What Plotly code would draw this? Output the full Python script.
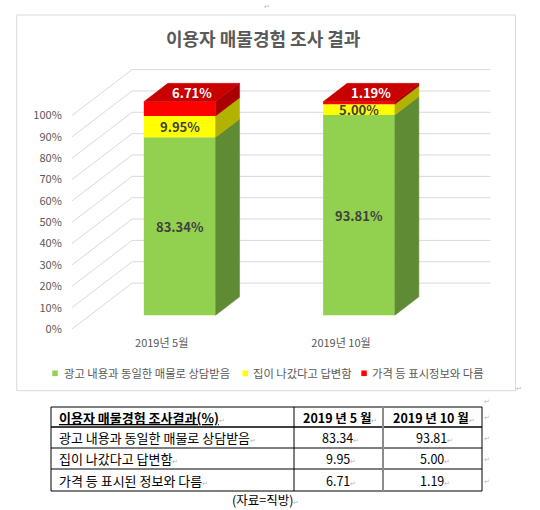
import plotly.graph_objects as go

# ---------------- data ----------------
categories = ["2019년 5월", "2019년 10월"]
series_names = ["광고 내용과 동일한 매물로 상담받음", "집이 나갔다고 답변함", "가격 등 표시정보와 다름"]
same_listing = [83.34, 93.81]
already_gone = [9.95, 5.00]
price_differs = [6.71, 1.19]
y_ticks = [0, 10, 20, 30, 40, 50, 60, 70, 80, 90, 100]
chart_title = "이용자 매물경험 조사 결과"
table_headers = ["이용자 매물경험 조사결과(%)", "2019 년 5 월", "2019 년 10 월"]
table_row_names = ["광고 내용과 동일한 매물로 상담받음", "집이 나갔다고 답변함", "가격 등 표시된 정보와 다름"]
source_note = "(자료=직방)"

# ---------------- styles / geometry ----------------
W, H = 540, 510
FONT = "Noto Sans CJK KR"
GRAY = "#595959"
GRID = "#D9D9D9"


def fx(px):
    return px / W


def fy(py):
    return 1 - py / H


DX, DY = 0.335, 21.5          # full-depth oblique shift in data units
D0, D1 = 0.3, 0.7             # bar depth span
BW = 0.40                     # bar width
XL, XR = -0.5, 1.5            # front plane extent
PLOT_L, PLOT_R = 72, 490.7
Y0_PX, PX_PER_PCT = 329.0, 2.135
Y_MIN, Y_MAX = -3, 125

front_cols = ["#92D050", "#FFFF00", "#FF0000"]
side_cols = ["#5F8B34", "#B2B200", "#A80000"]
top_col = "#C80000"
label_cols = ["#404040", "#404040", "#FFFFFF"]

series = [same_listing, already_gone, price_differs]
n = len(categories)
xs_front = [i + D0 * DX for i in range(n)]
ddx, ddy = (D1 - D0) * DX, (D1 - D0) * DY

fig = go.Figure()
annotations = []
shapes = []


def ptext(px, py, text, size, color, xanchor="center", yanchor="middle"):
    annotations.append(dict(x=fx(px), y=fy(py), xref="paper", yref="paper", showarrow=False,
                            xanchor=xanchor, yanchor=yanchor, text=text,
                            font=dict(family=FONT, size=size, color=color)))


# perspective gridlines (behind everything)
for v in y_ticks:
    shapes.append(dict(type="line", xref="x", yref="y", x0=XL, y0=v, x1=XL + DX, y1=v + DY,
                       line=dict(color=GRID, width=1), layer="below"))
    shapes.append(dict(type="line", xref="x", yref="y", x0=XL + DX, y0=v + DY, x1=XR + DX, y1=v + DY,
                       line=dict(color=GRID, width=1), layer="below"))

cum = [D0 * DY] * n
for s, vals in enumerate(series):
    bases = list(cum)
    fig.add_trace(go.Bar(x=xs_front, y=vals, base=bases, width=BW,
                         marker=dict(color=front_cols[s], line=dict(width=0)),
                         showlegend=False, hoverinfo="skip"))
    for i in range(n):
        b, t = bases[i], bases[i] + vals[i]
        xr = xs_front[i] + BW / 2
        fig.add_trace(go.Scatter(x=[xr, xr + ddx, xr + ddx, xr, xr],
                                 y=[b, b + ddy, t + ddy, t, b],
                                 fill="toself", fillcolor=side_cols[s], mode="lines",
                                 line=dict(width=0.5, color=side_cols[s]),
                                 showlegend=False, hoverinfo="skip"))
        if s < len(series) - 1:
            ax, ay = xs_front[i], b + vals[i] / 2
        else:
            ax, ay = xs_front[i] + ddx / 2, t + ddy / 2
        annotations.append(dict(x=ax, y=ay, xref="x", yref="y", showarrow=False,
                                xanchor="center", yanchor="middle",
                                text=f"<b>{vals[i]:.2f}%</b>",
                                font=dict(family=FONT, size=13, color=label_cols[s])))
    cum = [cum[i] + vals[i] for i in range(n)]

# top faces
for i in range(n):
    T = cum[i]
    xr = xs_front[i] + BW / 2
    xl = xr - BW
    fig.add_trace(go.Scatter(x=[xl, xr, xr + ddx, xl + ddx, xl],
                             y=[T, T, T + ddy, T + ddy, T],
                             fill="toself", fillcolor=top_col, mode="lines",
                             line=dict(width=0.5, color=top_col),
                             showlegend=False, hoverinfo="skip"))

# chart frame
shapes.append(dict(type="rect", xref="paper", yref="paper", x0=fx(16.7), y0=fy(390.7),
                   x1=fx(515.5), y1=fy(15), line=dict(color=GRID, width=1), layer="below"))

# title
ptext(263.5, 38, f"<b>{chart_title}</b>", 18, GRAY)

# legend (manual)
leg_sq_x = [52.3, 242.5, 361.3]
leg_tx_x = [62.0, 250.5, 369.5]
LEG_Y = 373.3
for s, name in enumerate(series_names):
    shapes.append(dict(type="rect", xref="paper", yref="paper",
                       x0=fx(leg_sq_x[s]), x1=fx(leg_sq_x[s] + 5.5),
                       y0=fy(LEG_Y + 2.8), y1=fy(LEG_Y - 2.8),
                       fillcolor=front_cols[s], line=dict(width=0)))
    ptext(leg_tx_x[s], LEG_Y, name, 11.3, GRAY, xanchor="left")

# ---------------- table ----------------
MARK = "<span style='color:#B8B8B8;font-size:7px'>↵</span>"
rows_y = [407, 427, 448, 469, 491]
cols_x = [51, 294, 383, 482]
BLACK = "#000000"
shapes.append(dict(type="rect", xref="paper", yref="paper", x0=fx(cols_x[0]), x1=fx(cols_x[-1]),
                   y0=fy(rows_y[-1]), y1=fy(rows_y[0]), line=dict(color=BLACK, width=1)))
shapes.append(dict(type="line", xref="paper", yref="paper", x0=fx(cols_x[0]), x1=fx(cols_x[-1]),
                   y0=fy(rows_y[1]), y1=fy(rows_y[1]), line=dict(color=BLACK, width=1.6)))
for ry in rows_y[2:-1]:
    shapes.append(dict(type="line", xref="paper", yref="paper", x0=fx(cols_x[0]), x1=fx(cols_x[-1]),
                       y0=fy(ry), y1=fy(ry), line=dict(color=BLACK, width=1)))
shapes.append(dict(type="line", xref="paper", yref="paper", x0=fx(cols_x[1]), x1=fx(cols_x[1]),
                   y0=fy(rows_y[0]), y1=fy(rows_y[-1]), line=dict(color=BLACK, width=1)))
shapes.append(dict(type="line", xref="paper", yref="paper", x0=fx(cols_x[2]), x1=fx(cols_x[2]),
                   y0=fy(rows_y[0]), y1=fy(rows_y[-1]), line=dict(color="#8C8C8C", width=2)))

TFONT_K = 13
TFONT_N = 12.5
col_centers = [(cols_x[1] + cols_x[2]) / 2, (cols_x[2] + cols_x[3]) / 2]
row_centers = [(rows_y[k] + rows_y[k + 1]) / 2 for k in range(len(rows_y) - 1)]
ptext(57, row_centers[0], f"<b><u>{table_headers[0]}</u></b>" + MARK, TFONT_K, BLACK, xanchor="left")
for c in range(2):
    ptext(col_centers[c] + 1, row_centers[0], f"<b>{table_headers[c + 1]}</b>" + MARK, TFONT_N, BLACK)
for r, vals in enumerate(series):
    ptext(57, row_centers[r + 1], table_row_names[r] + MARK, TFONT_K, BLACK, xanchor="left")
    for c in range(n):
        ptext(col_centers[c] + 2, row_centers[r + 1], f"{vals[c]:.2f}" + MARK, TFONT_N, BLACK)

ptext(265, 499.5, source_note + MARK, 12.5, BLACK)

# stray paragraph marks of the document
for (mx, my) in [(267, 6), (519, 388), (487, 401), (487, 417), (487, 438), (487, 459), (487, 481)]:
    ptext(mx, my, "↵", 7, "#B8B8B8")

fig.update_layout(
    width=W, height=H, margin=dict(l=0, r=0, t=0, b=0, pad=0),
    paper_bgcolor="white", plot_bgcolor="white",
    barmode="overlay", showlegend=False,
    shapes=shapes, annotations=annotations,
    xaxis=dict(range=[XL, XR + DX], domain=[fx(PLOT_L), fx(PLOT_R)],
               tickvals=list(range(n)), ticktext=categories,
               showgrid=False, zeroline=False, showline=False, ticks="",
               automargin=False,
               tickfont=dict(family=FONT, size=11, color=GRAY), fixedrange=True),
    yaxis=dict(range=[Y_MIN, Y_MAX],
               domain=[fy(Y0_PX - Y_MIN * PX_PER_PCT), fy(Y0_PX - Y_MAX * PX_PER_PCT)],
               tickvals=y_ticks, ticktext=[f"{v}%" for v in y_ticks],
               showgrid=False, zeroline=False, showline=False,
               ticks="outside", ticklen=7, tickcolor="rgba(0,0,0,0)",
               automargin=False,
               tickfont=dict(family=FONT, size=11, color=GRAY), fixedrange=True),
)

fig.write_html("out.html", config={"displayModeBar": False},
               post_script="document.body.style.margin='0';document.body.style.overflow='hidden';")
